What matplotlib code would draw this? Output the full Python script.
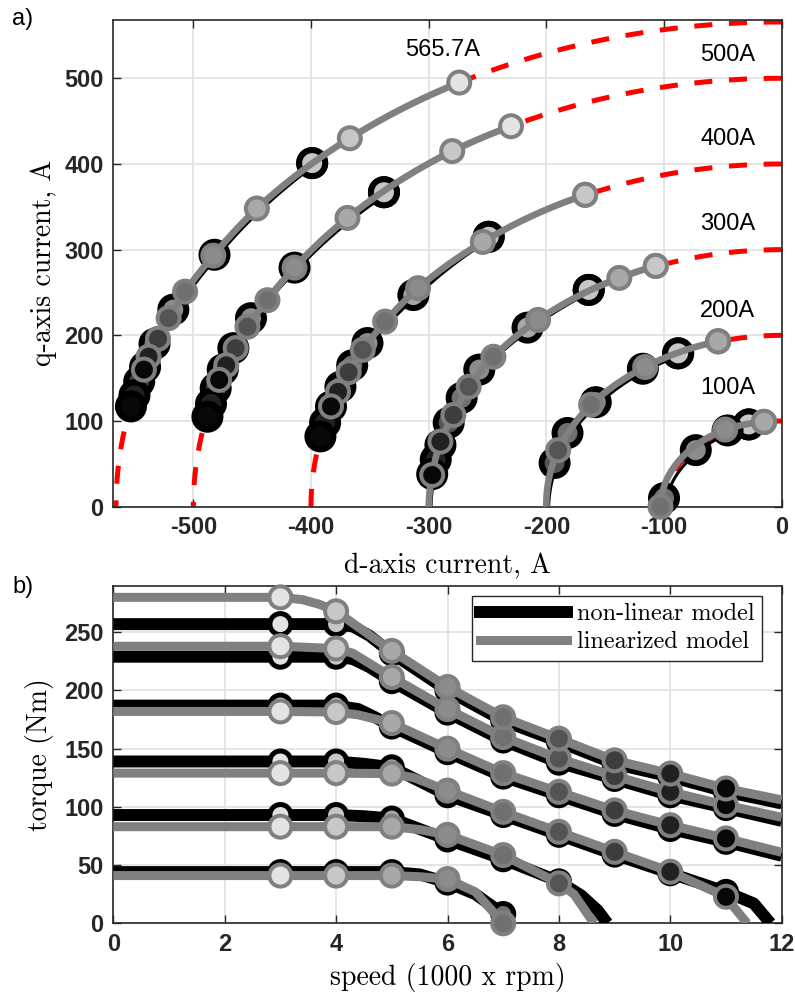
import numpy as np
import matplotlib
matplotlib.use('Agg')
import matplotlib.pyplot as plt
from matplotlib.lines import Line2D
import matplotlib.transforms as mtransforms

plt.rcParams['font.family'] = ['Liberation Sans', 'DejaVu Sans']
plt.rcParams['axes.unicode_minus'] = False
plt.rcParams['lines.scale_dashes'] = False

# ---------------- data ----------------
speeds = [3, 4, 5, 6, 7, 8, 9, 10, 11]            # 1000 x rpm
currents = [100, 200, 300, 400, 500, 565.7]        # A
current_labels = ['100A', '200A', '300A', '400A', '500A', '565.7A']
label_d = [-46, -46, -46, -46, -46, -288]
label_q = [139, 228, 330, 429, 527, 533]

# panel a) operating points, linearized model
lin_id_100 = [-15, -15, -15, -48, -103]
lin_iq_100 = [99, 99, 99, 90, 0]
lin_id_200 = [-54, -54, -54, -116, -162, -190]
lin_iq_200 = [193, 193, 193, 163, 119, 66]
lin_id_300 = [-107, -107, -138, -207, -245, -266, -279, -290, -297]
lin_iq_300 = [281, 281, 267, 218, 175, 140, 107, 76, 37]
lin_id_400 = [-167, -167, -254, -309, -337, -356, -368, -377, -383]
lin_iq_400 = [364, 364, 309, 255, 216, 183, 157, 134, 117]
lin_id_500 = [-230, -280, -369, -414, -437, -454, -464, -472, -478]
lin_iq_500 = [444, 415, 337, 279, 241, 210, 185, 165, 148]
lin_id_566 = [-274, -367, -446, -483, -507, -521, -530, -538, -542]
lin_iq_566 = [495, 430, 348, 293, 251, 220, 196, 175, 160]

# panel a) operating points, non-linear model
nl_id_100 = [-28, -28, -46, -73, -100]
nl_iq_100 = [96, 96, 89, 66, 10]
nl_id_200 = [-88, -88, -118, -158, -182, -193]
nl_iq_200 = [179, 179, 161, 122, 86, 51]
nl_id_300 = [-164, -164, -216, -257, -272, -283, -290, -294, -297]
nl_iq_300 = [253, 253, 209, 160, 127, 98, 72, 55, 38]
nl_id_400 = [-249, -249, -313, -352, -365, -375, -383, -388, -392]
nl_iq_400 = [315, 315, 247, 191, 165, 140, 117, 98, 82]
nl_id_500 = [-338, -338, -414, -451, -466, -475, -481, -485, -488]
nl_iq_500 = [367, 367, 279, 220, 185, 160, 138, 120, 105]
nl_id_566 = [-399, -399, -482, -517, -533, -541, -546, -550, -553]
nl_iq_566 = [401, 401, 294, 230, 190, 163, 146, 130, 117]

# panel b) torque at marker speeds
lin_tq_100 = [41, 41, 41, 38, 0]
lin_tq_200 = [83, 83, 83, 76, 58.6, 34.3]
lin_tq_300 = [129, 129, 128.6, 114, 95.7, 78.6, 61.4, 44.3, 22.8]
lin_tq_400 = [182, 181.5, 172, 150, 129, 112.9, 97, 84.3, 72.9]
lin_tq_500 = [238, 236, 211.5, 184, 160, 141.5, 126.5, 112.9, 101.5]
lin_tq_566 = [280, 268, 234, 203, 177, 158.6, 140, 128.6, 115.8]

nl_tq_100 = [44, 44, 44, 35, 8]
nl_tq_200 = [93, 93, 90, 72, 55, 36]
nl_tq_300 = [139, 139, 134, 110, 93, 76, 59, 43, 27]
nl_tq_400 = [187, 187, 169, 147, 126, 110, 94, 81, 70]
nl_tq_500 = [229, 229, 208, 181, 157, 138, 124, 110, 99]
nl_tq_566 = [257, 257, 232, 200, 174, 156, 137, 126, 113]

# panel b) extra points (knees and curve ends)
lin_knot_spd_100 = [5.5, 6.5]
lin_knot_tq_100 = [40, 27]
lin_knot_spd_200 = [5.5, 8.27, 8.5, 8.63]
lin_knot_tq_200 = [80.5, 25, 9, 0]
lin_knot_spd_300 = [5.4, 11.14, 11.38]
lin_knot_tq_300 = [125, 14, 0]
lin_knot_spd_400 = [4.4, 12]
lin_knot_tq_400 = [179, 61]
lin_knot_spd_500 = [4.3, 12]
lin_knot_tq_500 = [232, 91]
lin_knot_spd_566 = [3.4, 3.7, 12]
lin_knot_tq_566 = [278, 274, 106]

nl_knot_spd_100 = [5.5, 6.5, 7.13]
nl_knot_tq_100 = [42, 25, 0]
nl_knot_spd_200 = [4.5, 5.5, 8.4, 8.7, 8.87]
nl_knot_tq_200 = [92, 81, 24, 11, 0]
nl_knot_spd_300 = [4.5, 5.5, 11.5, 11.8]
nl_knot_tq_300 = [137, 122, 17, 0]
nl_knot_spd_400 = [4.4, 4.7, 12]
nl_knot_tq_400 = [184, 177, 58]
nl_knot_spd_500 = [4.3, 4.6, 12]
nl_knot_tq_500 = [227, 220, 88]
nl_knot_spd_566 = [4.3, 4.6, 12]
nl_knot_tq_566 = [255, 247, 103]

lin_id = [lin_id_100, lin_id_200, lin_id_300, lin_id_400, lin_id_500, lin_id_566]
lin_iq = [lin_iq_100, lin_iq_200, lin_iq_300, lin_iq_400, lin_iq_500, lin_iq_566]
nl_id = [nl_id_100, nl_id_200, nl_id_300, nl_id_400, nl_id_500, nl_id_566]
nl_iq = [nl_iq_100, nl_iq_200, nl_iq_300, nl_iq_400, nl_iq_500, nl_iq_566]
lin_tq = [lin_tq_100, lin_tq_200, lin_tq_300, lin_tq_400, lin_tq_500, lin_tq_566]
nl_tq = [nl_tq_100, nl_tq_200, nl_tq_300, nl_tq_400, nl_tq_500, nl_tq_566]
lin_knots = [(lin_knot_spd_100, lin_knot_tq_100), (lin_knot_spd_200, lin_knot_tq_200),
             (lin_knot_spd_300, lin_knot_tq_300), (lin_knot_spd_400, lin_knot_tq_400),
             (lin_knot_spd_500, lin_knot_tq_500), (lin_knot_spd_566, lin_knot_tq_566)]
nl_knots = [(nl_knot_spd_100, nl_knot_tq_100), (nl_knot_spd_200, nl_knot_tq_200),
            (nl_knot_spd_300, nl_knot_tq_300), (nl_knot_spd_400, nl_knot_tq_400),
            (nl_knot_spd_500, nl_knot_tq_500), (nl_knot_spd_566, nl_knot_tq_566)]

# ---------------- style ----------------
fill_levels = [0.89, 0.78, 0.66, 0.55, 0.44, 0.33, 0.24, 0.13, 0.03]
GRAY = '#808080'
LBL_FONT = 'cmr10'
PX = 0.72
MS_NL_A, MEW_NL_A = 26 * PX, 6 * PX      # panel a, non-linear markers
MS_LIN_A, MEW_LIN_A = 22 * PX, 4 * PX    # panel a, linearized markers
MS_NL_B, MEW_NL_B = 21 * PX, 5 * PX
MS_LIN_B, MEW_LIN_B = 22 * PX, 4 * PX


def fills(n):
    return [str(fill_levels[i]) for i in range(n)]


def arc_line(d, q, end_radius=None):
    d = np.asarray(d, float)
    q = np.asarray(q, float)
    th = np.arctan2(q, d)
    r = np.hypot(d, q)
    if end_radius is not None:
        th = np.append(th, np.pi)
        r = np.append(r, end_radius)
    idx = np.arange(len(th))
    t = np.linspace(0, len(th) - 1, 40 * (len(th) - 1) + 1)
    tt = np.interp(t, idx, th)
    rr = np.interp(t, idx, r)
    return rr * np.cos(tt), rr * np.sin(tt)


def torque_line(mk_tq, knots):
    n = len(mk_tq)
    s = np.concatenate([[0.0], speeds[:n], knots[0]])
    v = np.concatenate([[mk_tq[0]], mk_tq, knots[1]])
    o = np.argsort(s, kind='stable')
    return s[o], v[o]


def style(ax):
    ax.grid(True, color='#e3e3e3', lw=1.3)
    ax.set_axisbelow(True)
    ax.tick_params(direction='in', length=6, width=1.0, top=True, right=True,
                   labelsize=17, colors='#262626', pad=7)
    for lab in ax.get_xticklabels() + ax.get_yticklabels():
        lab.set_fontweight('bold')
    for sp in ax.spines.values():
        sp.set_color('#262626')
        sp.set_linewidth(1.2)


W, H = 795, 994
fig = plt.figure(figsize=(W / 100, H / 100), dpi=100)
ax1 = fig.add_axes([113.3 / W, 1 - 506.7 / H, 668.4 / W, 486.7 / H])
ax2 = fig.add_axes([113.3 / W, 1 - 923.3 / H, 668.4 / W, 337.6 / H])

# ---------------- panel a ----------------
ax1.set_xlim(-568, 0)
ax1.set_ylim(0, 568)
ax1.set_xticks([-500, -400, -300, -200, -100, 0])
ax1.set_yticks([0, 100, 200, 300, 400, 500])
style(ax1)

shift = mtransforms.offset_copy(ax1.transData, fig=fig, x=1.6, y=-1.6, units='points')
theta = np.linspace(np.pi / 2, np.pi, 300)
for k, I in enumerate(currents):
    ax1.plot(I * np.cos(theta), I * np.sin(theta), color='#ff0000', lw=3.6,
             dashes=(13, 12), zorder=2)
    # curves whose torque falls to zero within the speed range run down to iq = 0
    end_r = I if (len(lin_tq[k]) < len(speeds) or min(nl_tq[k]) <= 30) else None
    # non-linear
    x, y = arc_line(nl_id[k], nl_iq[k], end_r)
    ax1.plot(x, y, color='k', lw=2.2, transform=shift, zorder=3, solid_capstyle='butt')
    ax1.scatter(nl_id[k], nl_iq[k], s=MS_NL_A ** 2, c=fills(len(nl_id[k])), edgecolors='k',
                linewidths=MEW_NL_A, zorder=4, clip_on=False)
    # linearized
    x, y = arc_line(lin_id[k], lin_iq[k], end_r)
    ax1.plot(x, y, color=GRAY, lw=4.8, zorder=5, solid_capstyle='butt')
    ax1.scatter(lin_id[k], lin_iq[k], s=MS_LIN_A ** 2, c=fills(len(lin_id[k])), edgecolors=GRAY,
                linewidths=MEW_LIN_A, zorder=6, clip_on=False)
    ax1.text(label_d[k], label_q[k], current_labels[k], fontsize=17, ha='center',
             va='center', color='k', zorder=7)

ax1.set_xlabel('d-axis current, A', fontfamily=LBL_FONT, fontsize=20, labelpad=10)
ax1.set_ylabel('q-axis current, A', fontfamily=LBL_FONT, fontsize=20, labelpad=5)

# ---------------- panel b ----------------
ax2.set_xlim(0, 12)
ax2.set_ylim(0, 290)
ax2.set_xticks([0, 2, 4, 6, 8, 10, 12])
ax2.set_yticks([0, 50, 100, 150, 200, 250])
style(ax2)

for k in range(len(currents)):
    s, v = torque_line(nl_tq[k], nl_knots[k])
    ax2.plot(s, v, color='k', lw=8.6, zorder=3, solid_capstyle='butt', solid_joinstyle='round')
for k in range(len(currents)):
    n = len(nl_tq[k])
    ax2.scatter(speeds[:n], nl_tq[k], s=MS_NL_B ** 2, c=fills(n), edgecolors='k',
                linewidths=MEW_NL_B, zorder=4, clip_on=False)
for k in range(len(currents)):
    s, v = torque_line(lin_tq[k], lin_knots[k])
    ax2.plot(s, v, color=GRAY, lw=6.5, zorder=5, solid_capstyle='butt', solid_joinstyle='round')
for k in range(len(currents)):
    n = len(lin_tq[k])
    ax2.scatter(speeds[:n], lin_tq[k], s=MS_LIN_B ** 2, c=fills(n), edgecolors=GRAY,
                linewidths=MEW_LIN_B, zorder=6, clip_on=False)

handles = [Line2D([], [], color='k', lw=8.6), Line2D([], [], color=GRAY, lw=6.5)]
leg = ax2.legend(handles, ['non-linear model', 'linearized model'], loc='upper right',
                 bbox_to_anchor=(0.97, 0.97), borderaxespad=0, fancybox=False,
                 edgecolor='#262626', framealpha=1, handlelength=3.6,
                 prop={'family': LBL_FONT, 'size': 17.5}, borderpad=0.3,
                 labelspacing=0.25, handletextpad=0.4)
leg.get_frame().set_linewidth(1.0)
leg.set_zorder(10)

ax2.set_xlabel('speed (1000 x rpm)', fontfamily=LBL_FONT, fontsize=20, labelpad=5)
ax2.set_ylabel('torque (Nm)', fontfamily=LBL_FONT, fontsize=20, labelpad=7)

fig.text(12 / W, 1 - 8 / H, 'a)', fontsize=17, va='top', ha='left')
fig.text(12 / W, 1 - 576 / H, 'b)', fontsize=17, va='top', ha='left')

fig.savefig('out.png', dpi=100)
